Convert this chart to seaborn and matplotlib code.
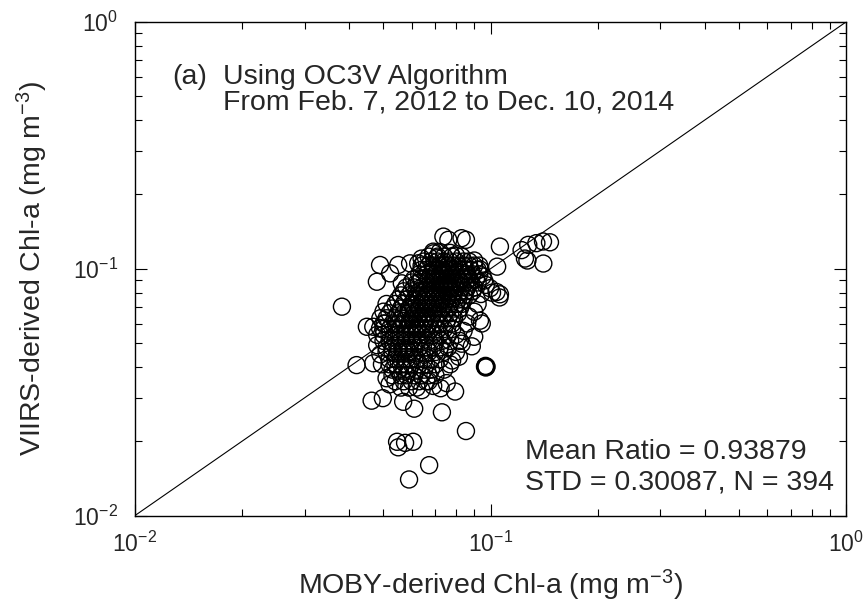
import numpy as np
import pandas as pd
import matplotlib
matplotlib.use("Agg")
import matplotlib.pyplot as plt
import seaborn as sns

# Dense core of the match-up cloud: one row of MOBY values per VIIRS level
core_rows_y = [0.112, 0.107, 0.103, 0.099, 0.095, 0.091, 0.088, 0.084, 0.081,
               0.078, 0.075, 0.072, 0.069, 0.066, 0.063, 0.060, 0.057, 0.054,
               0.051, 0.048, 0.046, 0.043, 0.041, 0.039, 0.037, 0.035, 0.033]
core_rows_x = [
    [0.067, 0.071, 0.074, 0.078, 0.083],
    [0.065, 0.068, 0.071, 0.074, 0.077, 0.080, 0.084, 0.087],
    [0.064, 0.067, 0.069, 0.072, 0.074, 0.076, 0.079, 0.081, 0.084, 0.087, 0.090],
    [0.064, 0.066, 0.069, 0.071, 0.073, 0.075, 0.077, 0.079, 0.082, 0.085, 0.088, 0.092],
    [0.063, 0.066, 0.068, 0.070, 0.072, 0.074, 0.076, 0.078, 0.080, 0.083, 0.086, 0.089, 0.093],
    [0.061, 0.064, 0.067, 0.069, 0.071, 0.073, 0.075, 0.077, 0.079, 0.081, 0.084, 0.087, 0.091],
    [0.060, 0.063, 0.066, 0.068, 0.070, 0.072, 0.074, 0.076, 0.078, 0.080, 0.082, 0.085, 0.088, 0.092],
    [0.058, 0.061, 0.064, 0.066, 0.068, 0.070, 0.072, 0.074, 0.076, 0.078, 0.080, 0.083, 0.086, 0.090],
    [0.057, 0.060, 0.063, 0.065, 0.067, 0.069, 0.071, 0.073, 0.075, 0.077, 0.079, 0.082, 0.085, 0.089],
    [0.056, 0.059, 0.062, 0.064, 0.066, 0.068, 0.070, 0.072, 0.074, 0.076, 0.078, 0.081, 0.084, 0.087],
    [0.055, 0.058, 0.061, 0.063, 0.065, 0.067, 0.069, 0.071, 0.073, 0.075, 0.078, 0.081, 0.084],
    [0.054, 0.057, 0.060, 0.062, 0.064, 0.066, 0.068, 0.070, 0.072, 0.074, 0.077, 0.080, 0.083],
    [0.053, 0.056, 0.059, 0.061, 0.063, 0.065, 0.067, 0.069, 0.071, 0.073, 0.076, 0.079, 0.082],
    [0.052, 0.055, 0.057, 0.059, 0.061, 0.063, 0.065, 0.067, 0.069, 0.071, 0.074, 0.077, 0.081],
    [0.051, 0.054, 0.056, 0.058, 0.060, 0.062, 0.064, 0.066, 0.068, 0.070, 0.073, 0.076, 0.079],
    [0.050, 0.053, 0.055, 0.057, 0.059, 0.061, 0.063, 0.065, 0.067, 0.069, 0.072, 0.075, 0.078],
    [0.050, 0.052, 0.054, 0.056, 0.058, 0.060, 0.062, 0.064, 0.066, 0.068, 0.071, 0.074, 0.078],
    [0.050, 0.052, 0.054, 0.056, 0.058, 0.060, 0.062, 0.064, 0.066, 0.069, 0.072, 0.076, 0.080],
    [0.050, 0.052, 0.054, 0.056, 0.058, 0.060, 0.062, 0.064, 0.067, 0.070, 0.073, 0.077],
    [0.051, 0.053, 0.055, 0.057, 0.059, 0.061, 0.063, 0.066, 0.069, 0.072, 0.076],
    [0.051, 0.053, 0.055, 0.057, 0.059, 0.061, 0.064, 0.067, 0.070, 0.074],
    [0.052, 0.054, 0.056, 0.058, 0.060, 0.062, 0.065, 0.068, 0.072],
    [0.052, 0.054, 0.056, 0.058, 0.060, 0.063, 0.066, 0.070],
    [0.053, 0.055, 0.057, 0.059, 0.062, 0.065, 0.068],
    [0.053, 0.056, 0.058, 0.061, 0.064, 0.067],
    [0.054, 0.057, 0.060, 0.063, 0.066],
    [0.056, 0.059, 0.062],
]

# Scattered points around the core (MOBY x, VIIRS y)
outer_x = [0.0737, 0.0761, 0.0829, 0.0853, 0.0691,
           0.1063, 0.1044, 0.1223, 0.1277, 0.1346, 0.1405, 0.1470, 0.1250, 0.1270,
           0.1408, 0.1063, 0.0997, 0.1010,
           0.1040, 0.1060, 0.0934, 0.0945, 0.0886, 0.0830, 0.0900, 0.0960, 0.0934,
           0.0965, 0.0970, 0.0975, 0.0968,
           0.0489, 0.0550, 0.0594, 0.0626, 0.0479, 0.0522, 0.0563, 0.0620, 0.0690, 0.0706,
           0.0449, 0.0468, 0.0489, 0.0505,
           0.0420, 0.0468, 0.0495,
           0.0382,
           0.0463, 0.0498, 0.0568, 0.0610, 0.0730, 0.0795, 0.0853, 0.0546, 0.0575,
           0.0606, 0.0550, 0.0672, 0.0590,
           0.0724, 0.0753, 0.0690, 0.0640,
           0.0815, 0.0780,
           0.090, 0.093, 0.095, 0.097, 0.094, 0.092, 0.090,
           0.051, 0.050, 0.049, 0.048, 0.048, 0.049,
           0.072, 0.077, 0.080, 0.064,
           0.051, 0.052, 0.067, 0.070, 0.074, 0.077,
           0.080, 0.082, 0.084, 0.086, 0.087,
           0.066, 0.070, 0.074, 0.062, 0.058]
outer_y = [0.135, 0.131, 0.133, 0.131, 0.1155,
           0.123, 0.102, 0.119, 0.125, 0.127, 0.129, 0.128, 0.110, 0.108,
           0.105, 0.0788, 0.0834, 0.080,
           0.0805, 0.0765, 0.0616, 0.0600, 0.0485, 0.0497, 0.053, 0.0896, 0.0994,
           0.0401, 0.0398, 0.0401, 0.0404,
           0.1036, 0.1036, 0.1052, 0.1052, 0.0886, 0.0958, 0.0873, 0.0873, 0.1173, 0.1103,
           0.0582, 0.0582, 0.0574, 0.0600,
           0.0407, 0.0414, 0.0410,
           0.0702,
           0.0292, 0.0299, 0.0289, 0.0271, 0.0262, 0.0318, 0.0220, 0.0199, 0.0197,
           0.0199, 0.0189, 0.0160, 0.0140,
           0.0328, 0.0344, 0.0335, 0.0322,
           0.0440, 0.0425,
           0.108, 0.103, 0.093, 0.086, 0.079, 0.072, 0.067,
           0.072, 0.067, 0.063, 0.054, 0.049, 0.045,
           0.117, 0.116, 0.113, 0.110,
           0.036, 0.034, 0.035, 0.037, 0.039, 0.041,
           0.046, 0.051, 0.056, 0.060, 0.064,
           0.074, 0.080, 0.086, 0.058, 0.047]

one_to_one = [0.01, 1.0]
panel_title = "(a)"
title_lines = ["Using OC3V Algorithm", "From Feb. 7, 2012 to Dec. 10, 2014"]
stats_lines = ["Mean Ratio = 0.93879", "STD = 0.30087, N = 394"]

# Build the table of match-ups
core_x = [x for row in core_rows_x for x in row]
core_y = [y for y, row in zip(core_rows_y, core_rows_x) for _ in row]
df = pd.DataFrame({"moby": core_x + outer_x, "viirs": core_y + outer_y})

sns.set_style("ticks")
plt.rcParams["font.family"] = ["Liberation Sans", "DejaVu Sans"]
plt.rcParams["mathtext.fontset"] = "custom"
plt.rcParams["mathtext.rm"] = "Liberation Sans"
plt.rcParams["mathtext.it"] = "Liberation Sans:italic"
plt.rcParams["mathtext.default"] = "regular"

fig = plt.figure(figsize=(8.66, 6.06), dpi=100)
ax = fig.add_axes([0.1559, 0.1493, 0.8210, 0.8144])

# 1:1 reference line
ax.plot(one_to_one, one_to_one, color="black", linewidth=0.8, zorder=1)

# Open circle markers for every match-up
sns.scatterplot(data=df, x="moby", y="viirs", ax=ax, marker="o", s=150,
                facecolor="none", edgecolor="black", linewidth=1.0, zorder=2)

ax.set_xscale("log")
ax.set_yscale("log")
ax.set_xlim(0.01, 1)
ax.set_ylim(0.01, 1)

# Axis frame and ticks
for side in ax.spines.values():
    side.set_linewidth(1.0)
    side.set_color("black")
ax.tick_params(which="both", direction="in", top=True, right=True,
               color="black", width=0.8)
ax.tick_params(which="major", length=8.5, labelsize=16.5, pad=12)
ax.tick_params(which="minor", length=5)

ax.set_xlabel("MOBY-derived Chl-a (mg m$^{-3}$)", fontsize=20.5)
ax.set_ylabel("VIIRS-derived Chl-a (mg m$^{-3}$)", fontsize=20.5)
ax.xaxis.set_label_coords(0.5, -0.105)
ax.yaxis.set_label_coords(-0.12, 0.5)

# Annotations
ax.text(0.052, 0.889, panel_title, transform=ax.transAxes, fontsize=20.5,
        va="center", ha="left")
ax.text(0.124, 0.889, title_lines[0], transform=ax.transAxes, fontsize=20.5,
        va="center", ha="left")
ax.text(0.124, 0.836, title_lines[1], transform=ax.transAxes, fontsize=20.5,
        va="center", ha="left")
ax.text(0.5485, 0.1287, stats_lines[0], transform=ax.transAxes, fontsize=20.5,
        va="center", ha="left")
ax.text(0.5485, 0.0679, stats_lines[1], transform=ax.transAxes, fontsize=20.5,
        va="center", ha="left")

fig.savefig("out.png", dpi=100)
